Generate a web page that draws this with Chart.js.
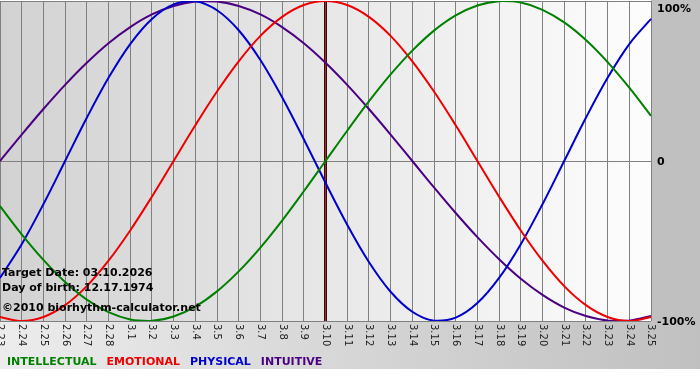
<!DOCTYPE html>
<html>
<head>
<meta charset="utf-8">
<title>Biorhythm</title>
<script src="https://cdn.jsdelivr.net/npm/chart.js@4/dist/chart.umd.min.js"></script>
<style>
html, body { margin: 0; padding: 0; background: #fff; }
canvas { display: block; }
</style>
</head>
<body>
<canvas id="bio" width="700" height="380"></canvas>
<script>
// days shown on the x axis (month.day)
var days = ['2.23','2.24','2.25','2.26','2.27','2.28','3.1','3.2','3.3','3.4','3.5','3.6','3.7','3.8','3.9',
	'3.10','3.11','3.12','3.13','3.14','3.15','3.16','3.17','3.18','3.19','3.20','3.21','3.22','3.23','3.24','3.25'];

var intellectual = [-0.282,-0.458,-0.618,-0.756,-0.866,-0.945,-0.990,-0.999,-0.972,-0.910,-0.815,-0.690,-0.541,-0.372,-0.189,
	0,0.189,0.372,0.541,0.690,0.815,0.910,0.972,0.999,0.990,0.945,0.866,0.756,0.618,0.458,0.282];
var emotional = [-0.975,-1,-0.975,-0.901,-0.782,-0.623,-0.434,-0.223,0,0.223,0.434,0.623,0.782,0.901,0.975,
	1,0.975,0.901,0.782,0.623,0.434,0.223,0,-0.223,-0.434,-0.623,-0.782,-0.901,-0.975,-1,-0.975];
var physical = [-0.731,-0.520,-0.270,0,0.270,0.520,0.731,0.888,0.979,0.998,0.942,0.817,0.631,0.398,0.136,
	-0.136,-0.398,-0.631,-0.817,-0.942,-0.998,-0.979,-0.888,-0.731,-0.520,-0.270,0,0.270,0.520,0.731,0.888];
var intuitive = [0,0.165,0.325,0.476,0.614,0.736,0.837,0.916,0.969,0.997,0.997,0.969,0.916,0.837,0.736,
	0.614,0.476,0.325,0.165,0,-0.165,-0.325,-0.476,-0.614,-0.736,-0.837,-0.916,-0.969,-0.997,-0.997,-0.969];

var yTicks = [{v: 1, t: '100%'}, {v: 0, t: '0'}, {v: -1, t: '-100%'}];
var targetDay = '3.10';
var infoLines = ['Target Date: 03.10.2026', 'Day of birth: 12.17.1974', '\u00a92010 biorhythm-calculator.net'];
var legendItems = [
	{t: 'INTELLECTUAL', c: '#008000'},
	{t: 'EMOTIONAL', c: '#ee0000'},
	{t: 'PHYSICAL', c: '#0000cc'},
	{t: 'INTUITIVE', c: '#4b0082'}
];

var font = '"DejaVu Sans", Verdana, sans-serif';

function line(data, color) {
	return {
		data: data,
		borderColor: color,
		borderWidth: 2,
		pointRadius: 0,
		tension: 0.35,
		fill: false
	};
}

// backgrounds, target line, and all the text
var decor = {
	id: 'decor',
	beforeDraw: function(chart) {
		var ctx = chart.ctx, a = chart.chartArea;
		ctx.save();
		ctx.fillStyle = '#fff';
		ctx.fillRect(0, 0, chart.width, chart.height);
		// right panel
		ctx.fillStyle = '#c0c0c0';
		ctx.fillRect(a.right, 0, chart.width - a.right, 369);
		// bottom band
		var g = ctx.createLinearGradient(0, 0, chart.width, 0);
		g.addColorStop(0, '#ececec');
		g.addColorStop(1, '#c0c0c0');
		ctx.fillStyle = g;
		ctx.fillRect(0, a.bottom, chart.width, 369 - a.bottom);
		// plot area
		var p = ctx.createLinearGradient(a.left, 0, a.right, 0);
		p.addColorStop(0, '#d2d2d2');
		p.addColorStop(1, '#fdfdfd');
		ctx.fillStyle = p;
		ctx.fillRect(a.left, a.top, a.right - a.left, a.bottom - a.top);
		ctx.restore();
	},
	beforeDatasetsDraw: function(chart) {
		var ctx = chart.ctx, a = chart.chartArea;
		var x = chart.scales.x.getPixelForValue(days.indexOf(targetDay));
		ctx.save();
		ctx.strokeStyle = '#3a0a0a';
		ctx.lineWidth = 3;
		ctx.beginPath();
		ctx.moveTo(x, a.top);
		ctx.lineTo(x, a.bottom);
		ctx.stroke();
		ctx.strokeStyle = '#a03030';
		ctx.lineWidth = 1;
		ctx.beginPath();
		ctx.moveTo(x, a.top);
		ctx.lineTo(x, a.bottom);
		ctx.stroke();
		ctx.restore();
	},
	afterDraw: function(chart) {
		var ctx = chart.ctx, a = chart.chartArea;
		var xs = chart.scales.x, ys = chart.scales.y;
		ctx.save();

		// day labels, turned clockwise
		ctx.fillStyle = '#222';
		ctx.font = '10px ' + font;
		ctx.textAlign = 'left';
		ctx.textBaseline = 'middle';
		days.forEach(function(d, i) {
			var x = xs.getPixelForValue(i);
			ctx.save();
			ctx.translate(x, a.bottom + 3);
			ctx.rotate(Math.PI / 2);
			ctx.fillText(d, 0, 0);
			ctx.restore();
		});

		// percent labels on the right
		ctx.fillStyle = '#000';
		ctx.font = 'bold 11px ' + font;
		yTicks.forEach(function(t) {
			var y = ys.getPixelForValue(t.v);
			y = Math.max(y, 8);
			ctx.fillText(t.t, a.right + 6, y + 1);
		});

		// info text
		ctx.font = 'bold 11px ' + font;
		ctx.fillStyle = '#000';
		ctx.textBaseline = 'alphabetic';
		ctx.fillText(infoLines[0], 2, 276);
		ctx.fillText(infoLines[1], 2, 291);
		ctx.fillText(infoLines[2], 2, 311);

		// legend
		ctx.font = 'bold 11px ' + font;
		var lx = 7;
		legendItems.forEach(function(it) {
			ctx.fillStyle = it.c;
			ctx.fillText(it.t, lx, 365);
			lx += ctx.measureText(it.t).width + 10;
		});
		ctx.restore();
	}
};

var chart = new Chart(document.getElementById('bio'), {
	type: 'line',
	data: {
		labels: days,
		datasets: [
			line(intellectual, '#008000'),
			line(emotional, '#ee0000'),
			line(physical, '#0000cc'),
			line(intuitive, '#4b0082')
		]
	},
	options: {
		responsive: false,
		animation: false,
		layout: {padding: {left: 0, top: 1, right: 49, bottom: 59}},
		plugins: {legend: {display: false}, tooltip: {enabled: false}},
		scales: {
			x: {
				offset: false,
				ticks: {display: false},
				grid: {color: '#808080', lineWidth: 1, drawTicks: false},
				border: {display: false}
			},
			y: {
				min: -1,
				max: 1,
				position: 'right',
				ticks: {display: false, stepSize: 1},
				grid: {color: '#808080', lineWidth: 1, drawTicks: false},
				border: {display: false}
			}
		}
	},
	plugins: [decor]
});
</script>
</body>
</html>
